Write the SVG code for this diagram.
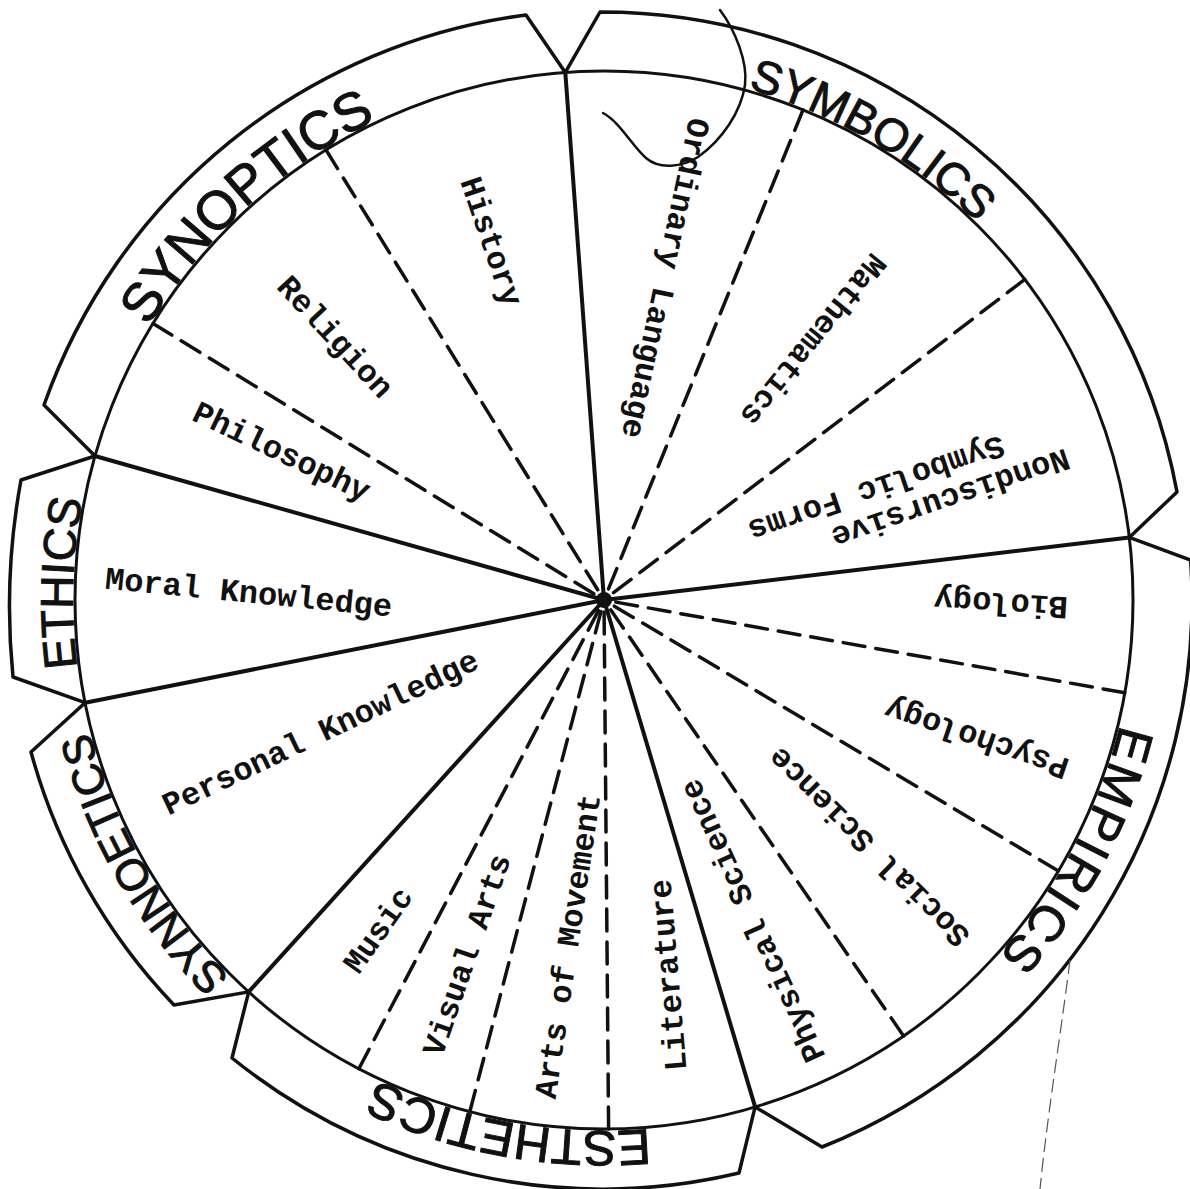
<svg xmlns="http://www.w3.org/2000/svg" width="1190" height="1189" viewBox="0 0 1190 1189">
<style>
.ln{fill:none;stroke:#111;stroke-linecap:round;stroke-linejoin:round}
.solid{stroke-width:4}
.dash{stroke-width:3.5;stroke-dasharray:22 11}
.rim{stroke-width:3}
.tab{stroke-width:3.5}
.lbl{font-family:"Liberation Mono","Courier New",monospace;font-weight:bold;font-size:32px;fill:#111;text-anchor:middle;dominant-baseline:central}
.realm{font-family:"Liberation Sans",Arial,sans-serif;fill:#111;stroke:#111;stroke-width:1}
</style>
<defs>
<path id="aSYNOPTICS" d="M73.6,574.1 A531,531 0 0 1 629.9,69.6"/>
<path id="aSYMBOLICS" d="M468.4,86.6 A531,531 0 0 1 1117.4,464.4"/>
<path id="aEMPIRICS" d="M1111.5,443.9 A531,531 0 0 1 760.1,1107.5"/>
<path id="aESTHETICS" d="M907.0,1036.0 A531,531 0 0 1 168.0,903.0"/>
<path id="aSYNNOETICS" d="M464.8,1112.4 A531,531 0 0 1 91.6,460.8"/>
<path id="aETHICS" d="M216.9,963.5 A531,531 0 0 1 240.5,212.9"/>
</defs>
<rect width="1190" height="1189" fill="#fff"/>

<g id="wheel">
<circle class="ln rim" cx="604" cy="600" r="529"/>
</g>

<g id="tab-synoptics">
<path class="ln tab" d="M95,456 L44,405 A592,592 0 0 1 526,15 L565.3,72.4"/>
<text class="realm" font-size="54"><textPath href="#aSYNOPTICS" startOffset="50%" text-anchor="middle">SYNOPTICS</textPath></text>
</g>
<g id="tab-symbolics">
<path class="ln tab" d="M565.3,72.4 L600,12 A586,586 0 0 1 1177,492 L1129.3,537.4"/>
<text class="realm" font-size="46"><textPath href="#aSYMBOLICS" startOffset="50%" text-anchor="middle">SYMBOLICS</textPath></text>
</g>
<g id="tab-empirics">
<path class="ln tab" d="M1129.3,537.4 L1190.6,560 A588,588 0 0 1 822,1147 L755.1,1106.9"/>
<text class="realm" font-size="50" letter-spacing="3"><textPath href="#aEMPIRICS" startOffset="50%" text-anchor="middle">EMPIRICS</textPath></text>
</g>
<g id="tab-esthetics">
<path class="ln tab" d="M755.1,1106.9 L739,1173 A590,590 0 0 1 232,1058 L248.7,991.9"/>
<text class="realm" font-size="50"><textPath href="#aESTHETICS" startOffset="50%" text-anchor="middle">ESTHETICS</textPath></text>
</g>
<g id="tab-synnoetics">
<path class="ln tab" d="M248.7,991.9 L174,1005 A592,592 0 0 1 31,752 L85.1,702.7"/>
<text class="realm" font-size="44"><textPath href="#aSYNNOETICS" startOffset="50%" text-anchor="middle">SYNNOETICS</textPath></text>
</g>
<g id="tab-ethics">
<path class="ln tab" d="M85.1,702.7 L13,677 A700,700 0 0 1 21,480 L95,456"/>
<text class="realm" font-size="46"><textPath href="#aETHICS" startOffset="50%" text-anchor="middle">ETHICS</textPath></text>
</g>

<g id="connectors">
<line class="ln solid" x1="565.3" y1="72.4" x2="604" y2="600"/>
<line class="ln solid" x1="1129.3" y1="537.4" x2="604" y2="600"/>
<line class="ln solid" x1="755.1" y1="1106.9" x2="604" y2="600"/>
<line class="ln solid" x1="248.7" y1="991.9" x2="604" y2="600"/>
<line class="ln solid" x1="85.1" y1="702.7" x2="604" y2="600"/>
<line class="ln solid" x1="95" y1="456" x2="604" y2="600"/>
<line class="ln dash" x1="326" y1="149.9" x2="604" y2="600"/>
<line class="ln dash" x1="153" y1="323.6" x2="604" y2="600"/>
<line class="ln dash" x1="803" y1="109.9" x2="604" y2="600"/>
<line class="ln dash" x1="1024.8" y1="279.4" x2="604" y2="600"/>
<line class="ln dash" x1="1124.8" y1="692.8" x2="604" y2="600"/>
<line class="ln dash" x1="1058.4" y1="870.9" x2="604" y2="600"/>
<line class="ln dash" x1="903.6" y1="1036" x2="604" y2="600"/>
<line class="ln dash" x1="608.6" y1="1129" x2="604" y2="600"/>
<line class="ln dash" x1="469.8" y1="1111.7" x2="604" y2="600"/>
<line class="ln dash" x1="358.9" y1="1068.8" x2="604" y2="600"/>
<circle cx="604" cy="600" r="8" fill="#111"/>
</g>

<g id="sectors">
<g id="history"><text class="lbl" x="490" y="242" transform="rotate(71 490 242)">History</text></g>
<g id="religion"><text class="lbl" x="334" y="338" transform="rotate(47 334 338)">Religion</text></g>
<g id="philosophy"><text class="lbl" x="281" y="453" transform="rotate(25.4 281 453)">Philosophy</text></g>
<g id="ordinary-language"><text class="lbl" x="664" y="278" transform="rotate(102 664 278)">Ordinary Language</text></g>
<g id="mathematics"><text class="lbl" x="812" y="339" transform="rotate(129 812 339)">Mathematics</text></g>
<g id="nondiscursive"><text class="lbl" x="950" y="497" transform="rotate(161 950 497)">Nondiscursive</text><text class="lbl" x="876" y="487" transform="rotate(161 876 487)">Symbolic Forms</text></g>
<g id="biology"><text class="lbl" x="1001" y="602" transform="rotate(-176.6 1001 602)">Biology</text></g>
<g id="psychology"><text class="lbl" x="977" y="737" transform="rotate(-161.2 977 737)">Psychology</text></g>
<g id="social-science"><text class="lbl" x="870" y="846" transform="rotate(-135.3 870 846)">Social Science</text></g>
<g id="physical-science"><text class="lbl" x="754" y="920" transform="rotate(-114.6 754 920)">Physical Science</text></g>
<g id="literature"><text class="lbl" x="670" y="975" transform="rotate(-94.8 670 975)">Literature</text></g>
<g id="arts-of-movement"><text class="lbl" x="569.5" y="946.5" transform="rotate(-81.6 569.5 946.5)">Arts of Movement</text></g>
<g id="visual-arts"><text class="lbl" x="468.5" y="955.5" transform="rotate(-70.9 468.5 955.5)">Visual Arts</text></g>
<g id="music"><text class="lbl" x="379.5" y="931" transform="rotate(-54.8 379.5 931)">Music</text></g>
<g id="personal-knowledge"><text class="lbl" x="321" y="734" transform="rotate(-25.4 321 734)">Personal Knowledge</text></g>
<g id="moral-knowledge"><text class="lbl" x="248.5" y="594" transform="rotate(5.6 248.5 594)">Moral Knowledge</text></g>
</g>

<path id="scribble" class="ln" stroke-width="2.5" d="M720,10 C735,30 748,62 745,85 C741,112 722,140 698,157 C682,167 660,170 646,158 C632,146 620,122 603,113"/>
<path id="stray-mark" fill="none" stroke="#555" stroke-width="1.2" stroke-dasharray="14 6" d="M1070,960 C1060,1040 1048,1110 1040,1189"/>
</svg>
